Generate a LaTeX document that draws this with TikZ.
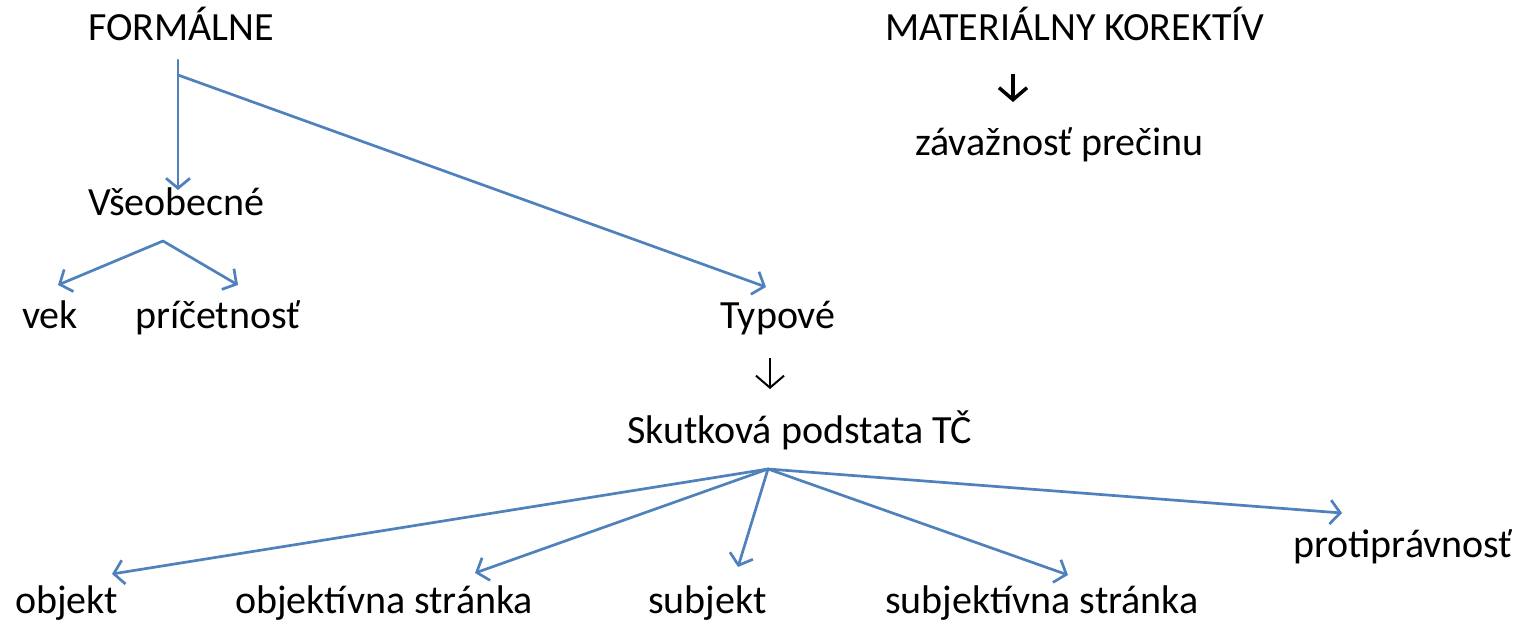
\documentclass[tikz,border=0pt]{standalone}
\usepackage{fontspec}
\setmainfont{Carlito}
\usetikzlibrary{arrows.meta}
\definecolor{lineblue}{RGB}{79,129,189}
\begin{document}
\begin{tikzpicture}[x=1pt,y=-1pt,
  lbl/.style={anchor=base west,inner sep=0,font=\fontsize{40}{45}\selectfont},
  conn/.style={draw=lineblue,line width=2.7pt,line cap=round,
    -{Straight Barb[length=10pt,width=24pt,line width=2.7pt]}},
  blk/.style={draw=black,line width=#1,
    -{Straight Barb[length=12pt,width=28pt,line width=#1]}}
]
\useasboundingbox (0,0) rectangle (1519,625);
% texts
\node[lbl] (form) at (88,40) {FORMÁLNE};
\node[lbl] (mat)  at (885,40) {MATERIÁLNY KOREKTÍV};
\node[lbl] (zav)  at (915,155) {závažnosť prečinu};
\node[lbl] (vse)  at (88,215) {Všeobecné};
\node[lbl] (vek)  at (22,328) {vek};
\node[lbl] (pri)  at (135,328) {príčetnosť};
\node[lbl] (typ)  at (720,328) {Typové};
\node[lbl] (sku)  at (627,443) {Skutková podstata TČ};
\node[lbl] (obj)  at (15,613) {objekt};
\node[lbl] (objs) at (235,613) {objektívna stránka};
\node[lbl] (sub)  at (648,613) {subjekt};
\node[lbl] (subs) at (885,613) {subjektívna stránka};
\node[lbl] (pro)  at (1293,557) {protiprávnosť};
% branch points and tips
\coordinate (f0) at (178,60);
\coordinate (f1) at (178,75);
\coordinate (vseT) at (178,190);
\coordinate (typT) at (766,287);
\coordinate (v0) at (163,241);
\coordinate (vekT) at (58,285);
\coordinate (priT) at (238,285);
\coordinate (s0) at (768,469);
\coordinate (objT) at (112,574);
\coordinate (objsT) at (475,573);
\coordinate (subT) at (738,567);
\coordinate (subsT) at (1068,575);
\coordinate (proT) at (1342,513);
\coordinate (ma0) at (1013,74);
\coordinate (ma1) at (1013,102);
\coordinate (ta0) at (770,358);
\coordinate (ta1) at (770,389);
% connectors
\draw[conn] (f0) -- (vseT);
\draw[conn] (f1) -- (typT);
\draw[conn] (v0) -- (vekT);
\draw[conn] (v0) -- (priT);
\draw[conn] (s0) -- (objT);
\draw[conn] (s0) -- (objsT);
\draw[conn] (s0) -- (subT);
\draw[conn] (s0) -- (subsT);
\draw[conn] (s0) -- (proT);
\draw[blk=3.5pt] (ma0) -- (ma1);
\draw[blk=2pt] (ta0) -- (ta1);
\end{tikzpicture}
\end{document}
